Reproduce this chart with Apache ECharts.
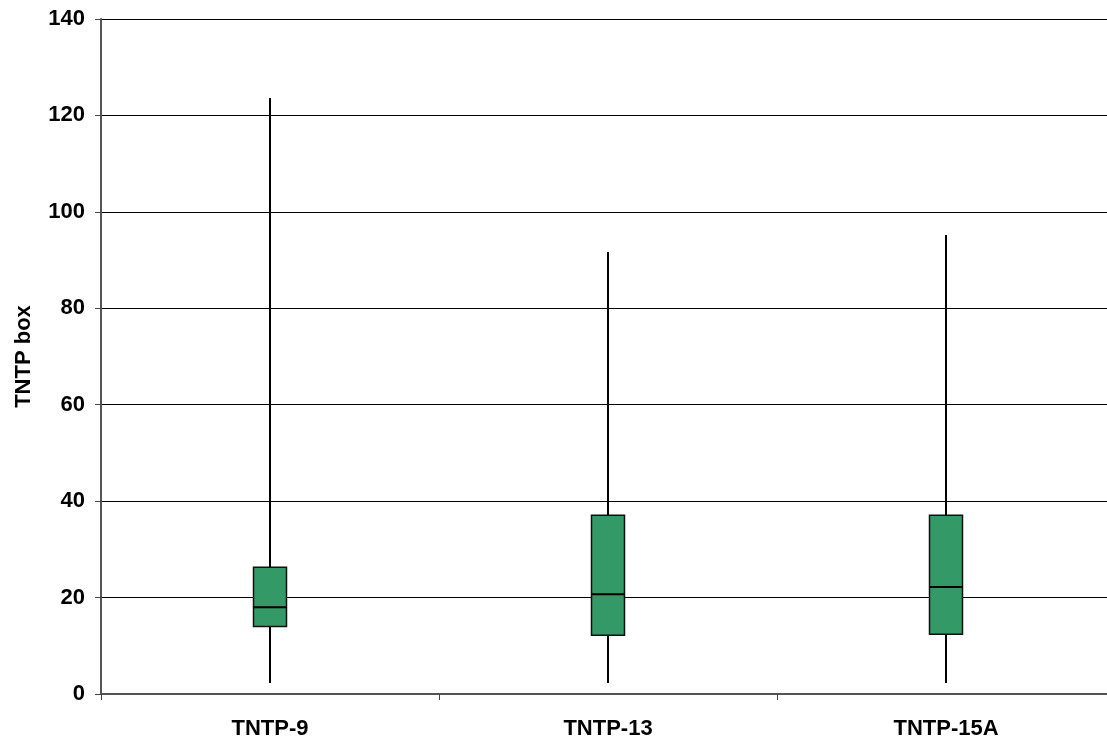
<!DOCTYPE html>
<html>
<head>
<meta charset="utf-8">
<script src="https://cdn.jsdelivr.net/npm/echarts@6/dist/echarts.min.js"></script>
<style>html,body{margin:0;padding:0;background:#fff;overflow:hidden;width:1107px;height:742px}#c{width:1115px;height:742px}</style>
</head>
<body>
<div id="c"></div>
<script>
var categories = ['TNTP-9', 'TNTP-13', 'TNTP-15A'];
var whiskerLow = [2.3, 2.3, 2.3];
var boxLow = [14.0, 12.2, 12.4];
var medians = [18.0, 20.7, 22.2];
var boxHigh = [26.3, 37.1, 37.1];
var whiskerHigh = [123.6, 91.7, 95.2];
var yTicks = [0, 20, 40, 60, 80, 100, 120, 140];

var data = categories.map(function (c, i) {
  return [i, whiskerLow[i], boxLow[i], medians[i], boxHigh[i], whiskerHigh[i]];
});

var chart = echarts.init(document.getElementById('c'));
var boxW = 33;
var font = 'Liberation Sans, Arial, sans-serif';
chart.setOption({
  animation: false,
  backgroundColor: '#fff',
  grid: { left: 101, top: 19, bottom: 48, right: 0, containLabel: false },
  xAxis: {
    type: 'category',
    data: categories,
    boundaryGap: true,
    axisLine: { show: true, lineStyle: { color: '#555', width: 2 } },
    axisTick: { show: true, length: 6, lineStyle: { color: '#444', width: 1 } },
    axisLabel: { color: '#000', fontWeight: 'bold', fontSize: 22, fontFamily: font, margin: 24 },
    splitLine: { show: false }
  },
  yAxis: {
    type: 'value',
    min: yTicks[0],
    max: yTicks[yTicks.length - 1],
    interval: 20,
    name: 'TNTP box',
    nameLocation: 'middle',
    nameGap: 66,
    nameRotate: 90,
    nameTextStyle: { color: '#000', fontWeight: 'bold', fontSize: 22, fontFamily: font },
    axisLine: { show: true, lineStyle: { color: '#555', width: 2 } },
    axisTick: { show: true, length: 6, lineStyle: { color: '#444', width: 1 } },
    axisLabel: { color: '#000', fontWeight: 'bold', fontSize: 22, fontFamily: font, margin: 16 },
    splitLine: { show: true, lineStyle: { color: '#000', width: 1 } }
  },
  series: [{
    type: 'custom',
    data: data,
    encode: { x: 0, y: [1, 2, 3, 4, 5] },
    renderItem: function (params, api) {
      var x = api.value(0);
      var pLow = api.coord([x, api.value(1)]);
      var pQ1 = api.coord([x, api.value(2)]);
      var pMed = api.coord([x, api.value(3)]);
      var pQ3 = api.coord([x, api.value(4)]);
      var pHigh = api.coord([x, api.value(5)]);
      var cx = Math.round(pLow[0]);
      return {
        type: 'group',
        children: [
          { type: 'line', shape: { x1: cx, y1: pHigh[1], x2: cx, y2: pQ3[1] }, style: { stroke: '#000', lineWidth: 2 } },
          { type: 'line', shape: { x1: cx, y1: pQ1[1], x2: cx, y2: pLow[1] }, style: { stroke: '#000', lineWidth: 2 } },
          { type: 'rect', shape: { x: cx - boxW / 2, y: pQ3[1], width: boxW, height: pQ1[1] - pQ3[1] }, style: { fill: '#339966', stroke: '#111', lineWidth: 1.5 } },
          { type: 'line', shape: { x1: cx - boxW / 2, y1: pMed[1], x2: cx + boxW / 2, y2: pMed[1] }, style: { stroke: '#000', lineWidth: 2 } }
        ]
      };
    }
  }]
});
</script>
</body>
</html>
